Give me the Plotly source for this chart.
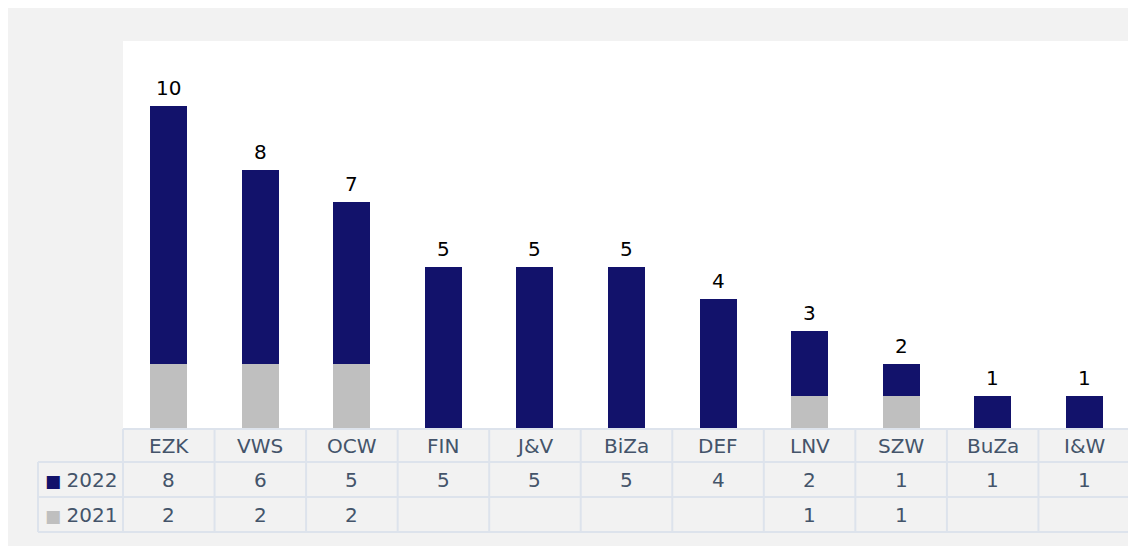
import plotly.graph_objects as go

categories = ["EZK", "VWS", "OCW", "FIN", "J&V", "BiZa", "DEF", "LNV", "SZW", "BuZa", "I&W"]
v2022 = [8, 6, 5, 5, 5, 5, 4, 2, 1, 1, 1]
v2021 = [2, 2, 2, None, None, None, None, 1, 1, None, None]
series_names = ["2022", "2021"]

navy = "#12126b"
grey = "#bfbfbf"
bg = "#f2f2f2"
txt = "#44546a"
grid = "#dde3ec"
FONT = "DejaVu Sans"

totals = [a + (b or 0) for a, b in zip(v2022, v2021)]

# page has an 8px body margin, so the figure is 8px smaller than the window
W, H = 1128, 538
ml, mr, mt, mb = 115, 6, 33, 118
pw, ph = W - ml - mr, H - mt - mb


def px_x(p):
    return (p - ml) / pw


def px_y(p):
    return (H - mb - p) / ph


fig = go.Figure()
fig.add_trace(go.Bar(x=categories, y=[b or 0 for b in v2021], marker_color=grey,
                     marker_line_width=0, name="2021", hoverinfo="skip"))
fig.add_trace(go.Bar(x=categories, y=v2022, marker_color=navy,
                     marker_line_width=0, name="2022", hoverinfo="skip"))

annotations = []
# totals above the bars
for c, t in zip(categories, totals):
    annotations.append(dict(x=c, y=t, xref="x", yref="y", text=str(t), showarrow=False,
                            yanchor="bottom", yshift=4,
                            font=dict(size=20, color="black", family=FONT)))

# data table under the chart
header_top, row1_top, row2_top, table_bot = 421, 454, 489, 524
label_left = 30
col_w = pw / len(categories)
tfont = dict(size=20, color=txt, family=FONT)

for i, c in enumerate(categories):
    annotations.append(dict(x=c, xref="x", y=px_y((header_top + row1_top) / 2), yref="paper",
                            text=c, showarrow=False, yanchor="middle", font=tfont))
    for vals, top, bot in ((v2022, row1_top, row2_top), (v2021, row2_top, table_bot)):
        v = vals[i]
        if v:
            annotations.append(dict(x=c, xref="x", y=px_y((top + bot) / 2), yref="paper",
                                    text=str(v), showarrow=False, yanchor="middle", font=tfont))

for name, col, top, bot in ((series_names[0], navy, row1_top, row2_top),
                            (series_names[1], grey, row2_top, table_bot)):
    annotations.append(dict(x=px_x((label_left + ml) / 2), xref="paper", xanchor="center",
                            y=px_y((top + bot) / 2), yref="paper",
                            text=f'<span style="color:{col};font-size:17px">■ </span>{name}',
                            showarrow=False, yanchor="middle", font=tfont))

shapes = []
line = dict(color=grid, width=2)
# horizontal lines
shapes.append(dict(type="line", xref="paper", yref="paper", x0=0, x1=1,
                   y0=px_y(header_top), y1=px_y(header_top), line=line))
for y in (row1_top, row2_top, table_bot):
    shapes.append(dict(type="line", xref="paper", yref="paper", x0=px_x(label_left), x1=1,
                       y0=px_y(y), y1=px_y(y), line=line))
# vertical lines
shapes.append(dict(type="line", xref="paper", yref="paper", x0=px_x(label_left), x1=px_x(label_left),
                   y0=px_y(row1_top), y1=px_y(table_bot), line=line))
for k in range(len(categories) + 1):
    x = px_x(ml + k * col_w)
    shapes.append(dict(type="line", xref="paper", yref="paper", x0=x, x1=x,
                       y0=px_y(header_top), y1=px_y(table_bot), line=line))

fig.update_layout(
    barmode="stack",
    bargap=0.596,
    width=W, height=H,
    margin=dict(l=ml, r=mr, t=mt, b=mb),
    paper_bgcolor=bg,
    plot_bgcolor="white",
    showlegend=False,
    font=dict(family=FONT, size=20, color="black"),
    xaxis=dict(showticklabels=False, showgrid=False, zeroline=False, ticks="",
               range=[-0.5, len(categories) - 0.5]),
    yaxis=dict(range=[0, 12], showticklabels=False, showgrid=False, zeroline=False),
    annotations=annotations,
    shapes=shapes,
)

fig.write_html("out.html")
